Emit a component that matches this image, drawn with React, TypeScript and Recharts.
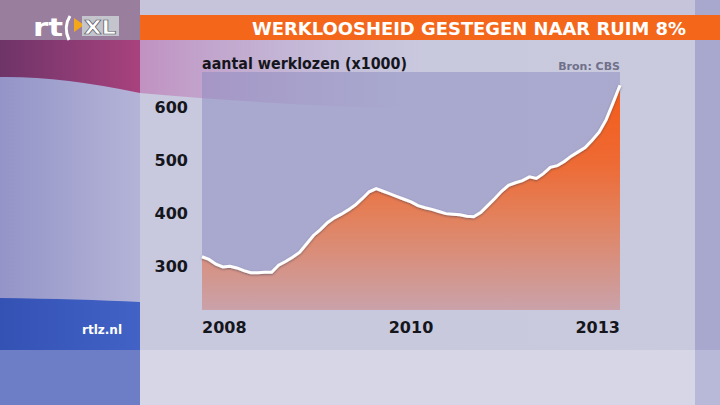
import React from "react";
import { ComposedChart, Area, Line, XAxis, YAxis, CartesianGrid } from "recharts";

// Categories: months Jan 2008 .. Jan 2013
const monthNames = ["jan", "feb", "mrt", "apr", "mei", "jun", "jul", "aug", "sep", "okt", "nov", "dec"];
const months: string[] = [];
for (let y = 2008; y <= 2013; y++) {
  for (let m = 0; m < 12; m++) {
    if (y === 2013 && m > 0) break;
    months.push(`${monthNames[m]} ${y}`);
  }
}

// aantal werklozen (x1000)
const werklozen: number[] = [
  318, 313, 304, 299, 300, 297, 292, 288, 288, 289, 289, 302,
  309, 317, 326, 342, 358, 369, 382, 391, 398, 406, 415, 427,
  440, 446, 441, 436, 431, 426, 421, 414, 410, 407, 403, 399,
  398, 397, 394, 393, 401, 414, 427, 441, 452, 457, 461, 468,
  465, 474, 486, 489, 497, 507, 515, 523, 537, 552, 575, 607,
  640,
];

const yTicks: number[] = [300, 400, 500, 600];
const xTicks: string[] = [months[0], months[30], months[60]];
const xTickLabels: string[] = ["2008", "2010", "2013"];

const title = "WERKLOOSHEID GESTEGEN NAAR RUIM 8%";
const subtitle = "aantal werklozen (x1000)";
const source = "Bron: CBS";
const site = "rtlz.nl";

const data = months.map((m, i) => ({ m, v: werklozen[i] }));

const FONT = "'DejaVu Sans', 'Open Sans', sans-serif";

const XTick = (props: any) => {
  const { x, y, payload } = props;
  const idx = xTicks.indexOf(payload.value);
  const anchor = idx === 0 ? "start" : idx === xTicks.length - 1 ? "end" : "middle";
  return (
    <text x={x} y={y} dy={23} textAnchor={anchor} fontFamily={FONT} fontWeight="bold" fontSize={16} fill="#15151c">
      {xTickLabels[idx]}
    </text>
  );
};

const YTick = (props: any) => {
  const { x, y, payload } = props;
  return (
    <text x={x - 14} y={y} dy={6} textAnchor="end" fontFamily={FONT} fontWeight="bold" fontSize={16} fill="#15151c">
      {payload.value}
    </text>
  );
};

const Background = () => (
  <svg width={720} height={405} style={{ position: "absolute", left: 0, top: 0 }}>
    <defs>
      <linearGradient id="bgMain" x1="0" y1="0" x2="1" y2="0">
        <stop offset="0" stopColor="#bcbcd8" />
        <stop offset="0.15" stopColor="#c8c8de" />
        <stop offset="1" stopColor="#cacade" />
      </linearGradient>
      <linearGradient id="leftCol" x1="0" y1="0" x2="1" y2="0">
        <stop offset="0" stopColor="#9494c8" />
        <stop offset="1" stopColor="#b4b4d8" />
      </linearGradient>
      <linearGradient id="magenta" x1="0" y1="0" x2="1" y2="0">
        <stop offset="0" stopColor="#6e3468" />
        <stop offset="1" stopColor="#a8427e" />
      </linearGradient>
      <linearGradient id="pinkFade" x1="0" y1="0" x2="1" y2="0">
        <stop offset="0" stopColor="#c088bc" stopOpacity="0.85" />
        <stop offset="0.5" stopColor="#bc98c8" stopOpacity="0.4" />
        <stop offset="1" stopColor="#b8a8d0" stopOpacity="0" />
      </linearGradient>
      <linearGradient id="blueBand" x1="0" y1="0" x2="1" y2="0">
        <stop offset="0" stopColor="#3452b4" />
        <stop offset="1" stopColor="#4262c6" />
      </linearGradient>
    </defs>
    <rect x={0} y={0} width={720} height={405} fill="url(#bgMain)" />
    <rect x={140} y={350} width={580} height={55} fill="#d6d6e6" />
    <rect x={140} y={0} width={580} height={15} fill="#c6c4da" />
    <rect x={695} y={0} width={25} height={350} fill="#a8a8ce" />
    <rect x={695} y={350} width={25} height={55} fill="#b8b8d8" />
    <rect x={0} y={0} width={140} height={405} fill="url(#leftCol)" />
    <rect x={0} y={0} width={140} height={40} fill="#9a7e9e" />
    <path d="M0,40 L140,40 L140,93 Q60,76 0,77 Z" fill="url(#magenta)" />
    <path d="M140,40 L430,40 L430,110 Q260,104 140,93 Z" fill="url(#pinkFade)" />
    <path d="M0,298 Q80,299 140,302 L140,350 L0,350 Z" fill="url(#blueBand)" />
    <rect x={0} y={350} width={140} height={55} fill="#6e7ec6" />
    <rect x={140} y={15} width={580} height={25} fill="#f4661a" />
    <text x={252} y={35} fontFamily={FONT} fontWeight="bold" fontSize={18} fill="#ffffff" textLength={434} lengthAdjust="spacingAndGlyphs">
      {title}
    </text>
    <text x={33} y={36} fontFamily={FONT} fontWeight="bold" fontSize={24} fill="#ffffff" textLength={30} lengthAdjust="spacingAndGlyphs">
      rt
    </text>
    <path d="M70,16 Q63,27 69,40" stroke="#ffffff" strokeWidth={3} fill="none" />
    <polygon points="74,18 84,25 74,32" fill="#f2a818" />
    <rect x={82} y={16} width={37} height={20} fill="#c8ccd0" opacity={0.9} />
    <text x={84} y={34} fontFamily={FONT} fontWeight="bold" fontSize={19} fill="#ffffff" stroke="#50505a" strokeWidth={0.6} textLength={32} lengthAdjust="spacingAndGlyphs">
      XL
    </text>
    <text x={122} y={334} textAnchor="end" fontFamily={FONT} fontWeight="bold" fontSize={12} fill="#ffffff">
      {site}
    </text>
    <text x={202} y={69} fontFamily={FONT} fontWeight="bold" fontSize={15} fill="#15151c" textLength={205} lengthAdjust="spacingAndGlyphs">
      {subtitle}
    </text>
    <text x={620} y={70} textAnchor="end" fontFamily={FONT} fontWeight="bold" fontSize={11} fill="#70708a">
      {source}
    </text>
  </svg>
);

export default function App() {
  return (
    <div style={{ position: "absolute", left: 0, top: 0, width: 720, height: 405, overflow: "hidden" }}>
      <Background />
      <div style={{ position: "absolute", left: 0, top: 0 }}>
        <ComposedChart width={720} height={405} data={data} margin={{ top: 72, right: 100, bottom: 65, left: 0 }}>
          <defs>
            <linearGradient id="areaFill" x1="0" y1="83" x2="0" y2="310" gradientUnits="userSpaceOnUse">
              <stop offset="0" stopColor="#f45a16" />
              <stop offset="0.35" stopColor="#ee6a34" />
              <stop offset="0.6" stopColor="#e2825e" />
              <stop offset="1" stopColor="#caa2aa" />
            </linearGradient>
            <filter id="lineShadow" x="-5%" y="-5%" width="110%" height="110%">
              <feDropShadow dx="0" dy="1" stdDeviation="0.8" floodColor="#3a3a50" floodOpacity="0.55" />
            </filter>
          </defs>
          <CartesianGrid horizontal={false} vertical={false} fill="#8a8ac0" fillOpacity={0.5} />
          <XAxis
            dataKey="m"
            ticks={xTicks}
            interval={0}
            axisLine={false}
            tickLine={false}
            tickSize={0}
            tickMargin={0}
            height={30}
            tick={<XTick />}
          />
          <YAxis
            domain={[218, 665]}
            ticks={yTicks}
            allowDataOverflow
            axisLine={false}
            tickLine={false}
            tickSize={0}
            tickMargin={0}
            width={202}
            tick={<YTick />}
          />
          <Area dataKey="v" type="linear" stroke="none" fill="url(#areaFill)" fillOpacity={1} isAnimationActive={false} />
          <Line dataKey="v" type="linear" stroke="#ffffff" strokeWidth={3} dot={false} activeDot={false} filter="url(#lineShadow)" isAnimationActive={false} />
        </ComposedChart>
      </div>
    </div>
  );
}
